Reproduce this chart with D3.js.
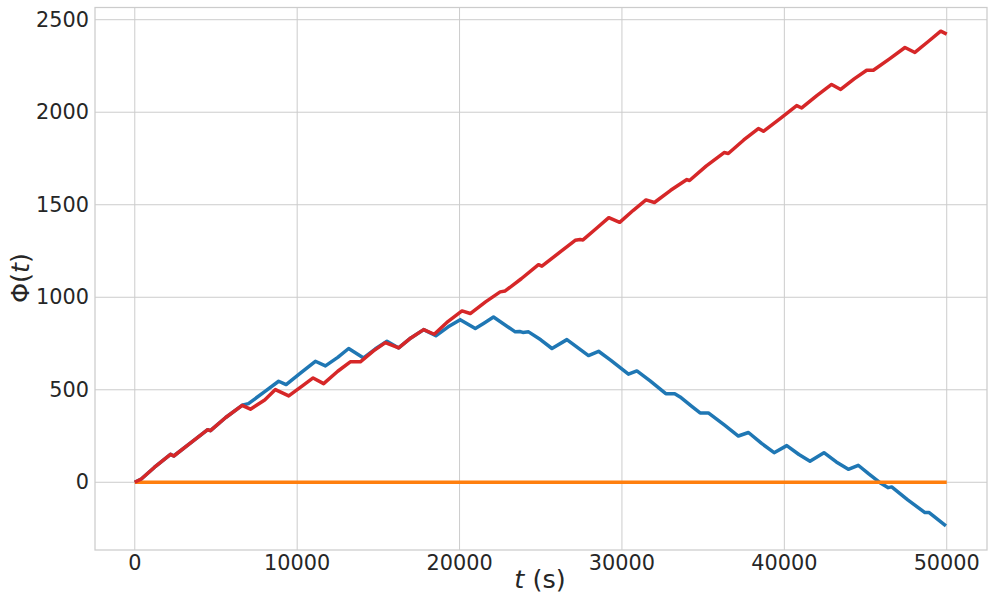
<!DOCTYPE html>
<html><head><meta charset="utf-8">
<script src="https://cdn.jsdelivr.net/npm/d3@7"></script>
<style>body{margin:0;background:#fff}</style>
</head><body>
<svg id="c" width="993" height="612"></svg>
<script>
const xTicks = [0, 10000, 20000, 30000, 40000, 50000];
const yTicks = [0, 500, 1000, 1500, 2000, 2500];

const blueT = [0, 400, 1200, 2200, 2400, 3400, 4490, 4660, 5600, 6610, 7000, 8000, 8860, 9320, 10200, 11120, 11740, 12500, 13170, 14090, 14800, 15530, 16250, 17000, 17790, 18540, 19300, 20040, 20970, 21500, 22090, 23430, 23700, 23900, 24250, 25000, 25690, 26610, 27940, 28560, 29300, 30400, 30920, 31735, 32700, 33250, 33580, 34300, 34812, 35320, 36300, 37170, 37790, 38600, 39370, 40150, 40900, 41580, 42440, 43200, 43940, 44550, 45200, 45890, 46400, 46610, 47600, 48660, 48920, 49950];
const blueY = [0, 18, 80, 151, 142, 210, 284, 279, 350, 416, 425, 490, 546, 528, 590, 654, 629, 675, 723, 672, 720, 762, 726, 780, 825, 792, 840, 879, 831, 860, 893, 813, 815, 810, 813, 770, 723, 771, 685, 708, 660, 584, 602, 548, 479, 479, 461, 410, 375, 375, 310, 250, 269, 210, 160, 198, 150, 114, 160, 110, 70, 92, 45, -2, -29, -25, -95, -164, -164, -236];

const orangeT = [0, 50000];
const orangeY = [0, 0];

const redT = [0, 400, 1200, 2200, 2400, 3400, 4490, 4660, 5600, 6610, 7120, 8000, 8660, 9480, 10300, 10980, 11630, 12500, 13270, 13890, 14700, 15430, 16250, 17000, 17790, 18440, 19300, 20150, 20660, 21600, 22500, 22810, 23800, 24860, 25070, 26200, 27120, 27430, 27600, 28400, 29190, 29860, 30700, 31480, 32000, 33000, 34000, 34160, 35200, 36290, 36550, 37500, 38400, 38710, 39800, 40760, 41070, 42000, 42910, 43470, 44300, 45070, 45480, 46500, 47430, 48040, 48900, 49630, 50000];
const redY = [0, 18, 80, 151, 142, 210, 284, 279, 350, 416, 395, 445, 501, 467, 520, 564, 533, 600, 651, 651, 710, 755, 726, 780, 825, 800, 870, 926, 912, 975, 1029, 1034, 1100, 1176, 1168, 1245, 1308, 1312, 1310, 1370, 1430, 1405, 1470, 1526, 1512, 1578, 1636, 1631, 1710, 1782, 1777, 1850, 1912, 1897, 1970, 2036, 2023, 2090, 2150, 2123, 2180, 2227, 2227, 2290, 2350, 2323, 2385, 2438, 2422];

const svg = d3.select('#c');
const L = 95, R = 987, T = 7.5, B = 550;
const x = d3.scaleLinear().domain([-2450, 52480]).range([L, R]);
const y = d3.scaleLinear().domain([-366, 2566]).range([B, T]);

svg.append('rect').attr('width', 993).attr('height', 612).attr('fill', '#fff');

const grid = svg.append('g').attr('stroke', '#cccccc').attr('stroke-width', 1);
xTicks.forEach(v => grid.append('line').attr('x1', x(v)).attr('x2', x(v)).attr('y1', T).attr('y2', B));
yTicks.forEach(v => grid.append('line').attr('x1', L).attr('x2', R).attr('y1', y(v)).attr('y2', y(v)));

svg.append('rect').attr('x', L).attr('y', T).attr('width', R - L).attr('height', B - T)
  .attr('fill', 'none').attr('stroke', '#cccccc').attr('stroke-width', 1.25);

const font = 'DejaVu Sans, sans-serif';
svg.append('g').selectAll('text').data(xTicks).join('text')
  .attr('x', d => x(d)).attr('y', 570).attr('text-anchor', 'middle')
  .attr('font-family', font).attr('font-size', 20.8).attr('fill', '#262626')
  .text(d => String(d));
svg.append('g').selectAll('text').data(yTicks).join('text')
  .attr('x', 89).attr('y', d => y(d)).attr('text-anchor', 'end').attr('dominant-baseline', 'central')
  .attr('font-family', font).attr('font-size', 20.8).attr('fill', '#262626')
  .text(d => String(d));

const xl = svg.append('text').attr('x', 540).attr('y', 588).attr('text-anchor', 'middle')
  .attr('font-family', font).attr('font-size', 25.5).attr('fill', '#262626');
xl.append('tspan').attr('font-style', 'italic').text('t');
xl.append('tspan').text(' (s)');

const yl = svg.append('text').attr('transform', 'translate(29,278) rotate(-90)').attr('text-anchor', 'middle')
  .attr('font-family', font).attr('font-size', 25.5).attr('fill', '#262626');
yl.append('tspan').text('Φ(');
yl.append('tspan').attr('font-style', 'italic').text('t');
yl.append('tspan').text(')');

const line = d3.line().x(d => x(d[0])).y(d => y(d[1]));
const series = [
  {t: blueT, v: blueY, c: '#1f77b4'},
  {t: orangeT, v: orangeY, c: '#ff7f0e'},
  {t: redT, v: redY, c: '#d62728'}
];
series.forEach(s => {
  svg.append('path').datum(s.t.map((t, i) => [t, s.v[i]]))
    .attr('d', line).attr('fill', 'none').attr('stroke', s.c)
    .attr('stroke-width', 3.5).attr('stroke-linejoin', 'round').attr('stroke-linecap', 'butt');
});
</script>
</body></html>
